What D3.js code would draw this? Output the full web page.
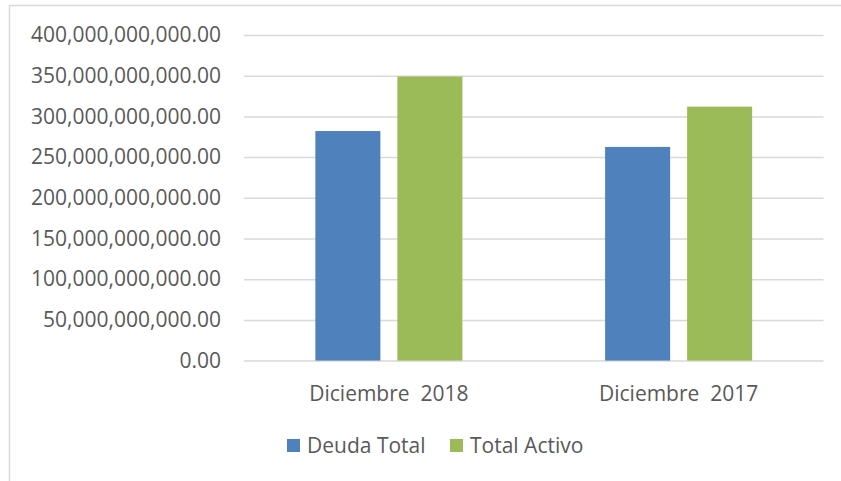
<!DOCTYPE html>
<html>
<head>
<meta charset="utf-8">
<script src="https://cdn.jsdelivr.net/npm/d3@7"></script>
<style>
  html, body { margin: 0; padding: 0; background: #fff; }
  svg { display: block; }
  text { font-family: "Open Sans", "Noto Sans", sans-serif; fill: #595959; }
</style>
</head>
<body>
<svg id="chart" width="841" height="481"></svg>
<script>
const categories = ["Diciembre  2018", "Diciembre  2017"];
const seriesNames = ["Deuda Total", "Total Activo"];
const deudaTotal = [282e9, 262.5e9];
const totalActivo = [349e9, 312e9];
const seriesColors = ["#4f81bd", "#9bbb59"];
const yTicks = [0, 50e9, 100e9, 150e9, 200e9, 250e9, 300e9, 350e9, 400e9];

const svg = d3.select("#chart");
const W = 841, H = 481;
const plot = { left: 244, right: 823.5, top: 35, bottom: 360.6 };
const FS = "21px";

// chart frame (top and left edge visible)
svg.append("line").attr("x1", 9.5).attr("x2", W).attr("y1", 5.5).attr("y2", 5.5)
  .attr("stroke", "#d9d9d9").attr("stroke-width", 1.5);
svg.append("line").attr("x1", 9.5).attr("x2", 9.5).attr("y1", 5.5).attr("y2", H)
  .attr("stroke", "#d9d9d9").attr("stroke-width", 1.5);

const y = d3.scaleLinear().domain([0, 400e9]).range([plot.bottom, plot.top]);
const x0 = d3.scaleBand().domain(categories).range([plot.left, plot.right]).paddingInner(0).paddingOuter(0);
const x1 = d3.scaleBand().domain(seriesNames).range([0, x0.bandwidth()]).paddingInner(0.207).paddingOuter(0.87);

const fmt = d3.format(",.2f");

// gridlines + y labels
const yAxis = d3.axisLeft(y).tickValues(yTicks).tickSize(-(plot.right - plot.left)).tickPadding(23).tickFormat(fmt);
const gy = svg.append("g").attr("transform", `translate(${plot.left},0)`).call(yAxis);
gy.select(".domain").remove();
gy.selectAll(".tick line").attr("stroke", "#d9d9d9").attr("stroke-width", 1.5);
gy.selectAll(".tick text").attr("font-size", FS).attr("fill", "#595959")
  .style("font-family", '"Open Sans", sans-serif');

const data = categories.map((c, i) => ({ cat: c, values: [deudaTotal[i], totalActivo[i]] }));

const groups = svg.append("g").selectAll("g").data(data).join("g")
  .attr("transform", d => `translate(${x0(d.cat)},0)`);
groups.selectAll("rect").data(d => d.values.map((v, j) => ({ s: seriesNames[j], v, j })))
  .join("rect")
  .attr("x", d => x1(d.s))
  .attr("width", x1.bandwidth())
  .attr("y", d => y(d.v))
  .attr("height", d => y(0) - y(d.v))
  .attr("fill", d => seriesColors[d.j]);

// category labels
const xAxis = d3.axisBottom(x0).tickSize(0).tickPadding(25);
const gx = svg.append("g").attr("transform", `translate(0,${plot.bottom})`).call(xAxis);
gx.select(".domain").remove();
gx.selectAll(".tick text").attr("font-size", FS).attr("fill", "#595959")
  .style("font-family", '"Open Sans", sans-serif').style("white-space", "pre").attr("xml:space", "preserve");

// legend
const legendX = [287, 450];
const leg = svg.append("g").selectAll("g").data(seriesNames).join("g")
  .attr("transform", (d, i) => `translate(${legendX[i]},439)`);
leg.append("rect").attr("width", 13).attr("height", 13).attr("fill", (d, i) => seriesColors[i]);
leg.append("text").attr("x", 20).attr("y", 13.5).attr("font-size", FS).text(d => d);
</script>
</body>
</html>
